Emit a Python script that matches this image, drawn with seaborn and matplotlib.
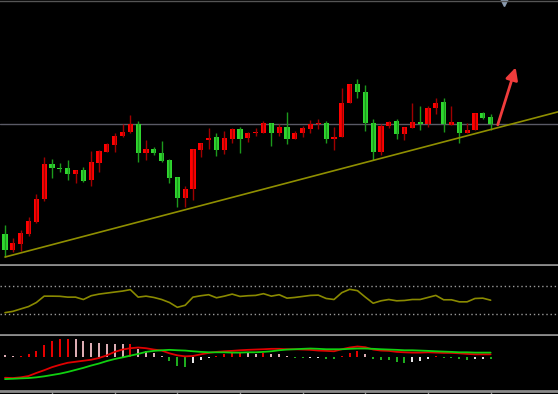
import numpy as np
import matplotlib
matplotlib.use("Agg")
import matplotlib.pyplot as plt
import seaborn as sns

# daily candles (red = up, green = down)
opens = [10.62, 10.30, 10.42, 10.62, 10.86, 11.32, 12.02, 11.94, 11.94, 11.82,
         11.90, 11.70, 12.04, 12.26, 12.40, 12.58, 12.68, 12.84, 12.24, 12.32,
         12.24, 12.10, 11.76, 11.34, 11.52, 12.30, 12.50, 12.56, 12.30, 12.52,
         12.74, 12.54, 12.64, 12.66, 12.86, 12.64, 12.78, 12.52, 12.64, 12.74,
         12.84, 12.86, 12.52, 12.56, 13.26, 13.64, 13.48, 12.86, 12.26, 12.80,
         12.90, 12.62, 12.76, 12.88, 12.84, 13.16, 13.28, 12.82, 12.88, 12.64,
         12.72, 13.06, 12.98]
highs = [10.80, 10.54, 10.70, 10.96, 11.42, 12.16, 12.12, 12.04, 12.10, 11.90,
         11.96, 12.28, 12.30, 12.44, 12.66, 12.84, 13.02, 12.90, 12.50, 12.36,
         12.48, 12.12, 11.76, 11.58, 12.32, 12.44, 12.76, 12.64, 12.70, 12.76,
         12.78, 12.68, 12.76, 12.90, 12.86, 12.84, 13.08, 12.70, 12.80, 12.92,
         12.94, 12.90, 12.78, 13.56, 13.64, 13.74, 13.62, 12.94, 12.84, 12.90,
         12.94, 12.78, 13.26, 13.20, 13.20, 13.36, 13.36, 13.20, 12.88, 12.86,
         13.06, 13.08, 13.04]
lows = [10.16, 10.26, 10.28, 10.58, 10.84, 11.28, 11.74, 11.86, 11.70, 11.64,
        11.66, 11.58, 11.86, 12.26, 12.26, 12.56, 12.64, 12.06, 12.10, 12.20,
        12.06, 11.64, 11.16, 11.16, 11.30, 12.16, 12.32, 12.18, 12.22, 12.44,
        12.24, 12.46, 12.58, 12.64, 12.38, 12.58, 12.42, 12.52, 12.56, 12.66,
        12.74, 12.44, 12.30, 12.56, 13.26, 13.36, 12.70, 12.10, 12.20, 12.76,
        12.52, 12.50, 12.76, 12.72, 12.78, 13.04, 12.68, 12.82, 12.44, 12.64,
        12.72, 12.94, 12.72]
closes = [10.30, 10.44, 10.64, 10.88, 11.32, 12.02, 11.94, 11.92, 11.82, 11.90,
          11.68, 12.06, 12.28, 12.42, 12.58, 12.68, 12.84, 12.24, 12.32, 12.24,
          12.08, 11.74, 11.34, 11.52, 12.32, 12.44, 12.54, 12.30, 12.54, 12.74,
          12.52, 12.66, 12.68, 12.86, 12.64, 12.78, 12.52, 12.66, 12.76, 12.84,
          12.86, 12.52, 12.56, 13.26, 13.64, 13.48, 12.86, 12.26, 12.80, 12.88,
          12.62, 12.78, 12.88, 12.84, 13.16, 13.26, 12.84, 12.88, 12.64, 12.72,
          13.06, 12.96, 12.84]

# oscillator (middle panel), levels 20 / 80
osc = [23.3, 26.1, 31.3, 36.4, 45.1, 58.8, 58.8, 58.5, 56.7, 56.7,
       51.6, 59.7, 63.2, 65.4, 67.6, 69.7, 72.8, 56.7, 58.8, 56.0,
       51.6, 45.1, 34.8, 39.2, 56.7, 59.7, 61.9, 55.3, 58.8, 63.2,
       58.2, 59.7, 60.4, 64.1, 58.8, 61.9, 54.5, 56.0, 58.2, 60.4,
       61.0, 53.8, 51.6, 66.3, 73.5, 70.6, 56.7, 43.6, 48.8, 51.6,
       48.8, 49.5, 51.6, 51.6, 56.0, 60.4, 51.0, 51.0, 46.6, 46.6,
       53.8, 54.5, 50.1]
osc_levels = [20, 80]

# MACD panel
dif = [-20.7, -21.0, -20.3, -19.0, -16.0, -13.3, -10.3, -8.0, -6.0, -5.0,
       -4.0, -3.0, -1.3, 1.3, 4.7, 7.0, 8.3, 9.0, 8.3, 7.0,
       6.0, 3.3, 1.3, 0.3, 0.7, 2.3, 3.7, 4.7, 5.3, 5.7,
       6.3, 6.7, 7.0, 7.3, 7.7, 7.7, 7.3, 7.3, 7.0, 6.7,
       6.0, 5.7, 5.3, 7.3, 9.0, 10.0, 9.3, 7.0, 6.0, 5.7,
       4.7, 4.3, 4.0, 4.0, 4.3, 4.0, 3.7, 3.7, 3.3, 2.7,
       2.3, 2.3, 2.3]
dea = [-22.0, -21.7, -21.3, -21.0, -20.3, -19.3, -18.0, -16.7, -15.0, -13.0,
       -11.0, -8.7, -6.7, -4.3, -2.3, -0.7, 1.0, 2.7, 4.7, 5.7,
       6.3, 6.7, 6.3, 6.0, 5.3, 4.7, 4.3, 4.3, 4.3, 4.0,
       4.0, 4.3, 4.3, 4.7, 5.3, 6.3, 7.0, 7.3, 7.7, 8.0,
       7.7, 7.3, 7.3, 7.3, 7.7, 8.0, 8.0, 7.7, 7.3, 7.0,
       6.7, 6.3, 6.3, 6.0, 5.7, 5.3, 5.0, 4.7, 4.3, 4.3,
       4.0, 4.0, 4.0]
macd_hist = [1.5, 0.5, 0.6, 2.3, 5.3, 11.3, 15.3, 17.0, 17.4, 17.0,
             15.3, 13.7, 13.0, 12.3, 12.2, 12.1, 12.3, 8.0, 5.3, 3.7,
             0.3, -4.3, -8.7, -10.3, -6.3, -3.7, -1.7, 0.7, 2.3, 3.7,
             3.9, 3.6, 3.0, 3.3, 2.6, 2.3, 0.3, -1.5, -1.7, -1.3,
             -1.2, -2.3, -2.7, 0.3, 3.7, 5.3, 3.0, -2.3, -3.3, -3.5,
             -5.3, -6.2, -5.0, -4.3, -2.3, 1.0, -1.3, -1.6, -2.7, -3.3,
             -2.6, -2.3, -2.6]

ref_price = 12.84          # horizontal reference line
trend_anchors = [0, 47]    # candles whose lows define the support line
arrow_from = (62.8, 12.76)
arrow_to = (65.3, 14.02)
tick_idx = [6, 14, 22, 30, 38, 46, 54, 62]

RED, GREEN = "#ff0000", "#2fd62f"
RED_WICK, GREEN_WICK = "#a00000", "#1c9a1c"
FRAME = "#8c8c8c"

sns.set_theme(style="dark")
plt.rcParams["axes.facecolor"] = "black"
plt.rcParams["figure.facecolor"] = "black"

W, H = 558, 394
fig = plt.figure(figsize=(W / 100, H / 100), dpi=100)

def panel(top, bottom):
    ax = fig.add_axes([0, (H - bottom) / H, 1, (bottom - top) / H])
    ax.set_facecolor("black")
    ax.grid(False)
    for side in ["top", "left", "right"]:
        ax.spines[side].set_visible(False)
    ax.spines["bottom"].set_color(FRAME)
    ax.spines["bottom"].set_linewidth(2)
    ax.set_xticks([])
    ax.set_yticks([])
    ax.set_xlim(-0.64, 70.6)
    return ax

ax1 = panel(1, 265)
ax2 = panel(266, 335)
ax3 = panel(336, 391)

idx = np.arange(len(closes))
o, h, l, c = map(np.array, (opens, highs, lows, closes))
up = c >= o

# candles
ax1.vlines(idx[up], l[up], h[up], color=RED_WICK, lw=1)
ax1.vlines(idx[~up], l[~up], h[~up], color=GREEN_WICK, lw=1)
body_lo = np.minimum(o, c)
body_h = np.maximum(np.abs(c - o), 0.02)
ax1.bar(idx[up], body_h[up], bottom=body_lo[up], width=0.66, color=RED, lw=0)
ax1.bar(idx[~up], body_h[~up], bottom=body_lo[~up], width=0.66, color=GREEN, lw=0)

ax1.axhline(ref_price, color="#5a5a66", lw=1, zorder=0)

# support line through the two anchor lows, extended to the right edge
slope, inter = np.polyfit(trend_anchors, l[trend_anchors], 1)
tx = np.array([0, 70.6])
ax1.plot(tx, slope * tx + inter, color="#8f8f00", lw=1.2)

ax1.annotate("", xy=arrow_to, xytext=arrow_from,
             arrowprops=dict(arrowstyle="-|>,head_length=0.6,head_width=0.3",
                             color="#f03c3c", lw=2))
ax1.set_ylim(10.0, 15.3)
ax1.plot([63.7], [15.3], marker="v", ms=7, color="#8a9bb0", clip_on=False)
ax1.spines["top"].set_visible(True)
ax1.spines["top"].set_color("#555555")
ax1.spines["top"].set_linewidth(1)

# oscillator
for lvl in osc_levels:
    ax2.axhline(lvl, color="#9a9a9a", lw=1, ls=(0, (1, 2)))
sns.lineplot(x=idx, y=osc, ax=ax2, color="#8a8a00", lw=1.2)
ax2.set_ylim(-24.7, 123.6)
ax2.set_xlabel("")
ax2.set_ylabel("")

# MACD histogram coloured by sign and direction
hist = np.array(macd_hist)
prev = np.concatenate([[hist[0] + 1], hist[:-1]])
colors = np.where(hist >= 0,
                  np.where(hist >= prev, RED, "#f4c0c8"),
                  np.where(hist <= prev, "#22c022", "#ffffff"))
ax3.vlines(idx, 0, hist, colors=colors, lw=1.3)
sns.lineplot(x=idx, y=dif, ax=ax3, color="#e00000", lw=1.3)
sns.lineplot(x=idx, y=dea, ax=ax3, color="#10d010", lw=1.3)
ax3.set_ylim(-33.7, 20.3)
ax3.set_xlabel("")
ax3.set_ylabel("")
ax3.set_xticks(tick_idx)
ax3.set_xticklabels([])
ax3.tick_params(axis="x", bottom=True, direction="out", length=3,
                color=FRAME, width=1)

fig.savefig("out.png", dpi=100, facecolor="black")
